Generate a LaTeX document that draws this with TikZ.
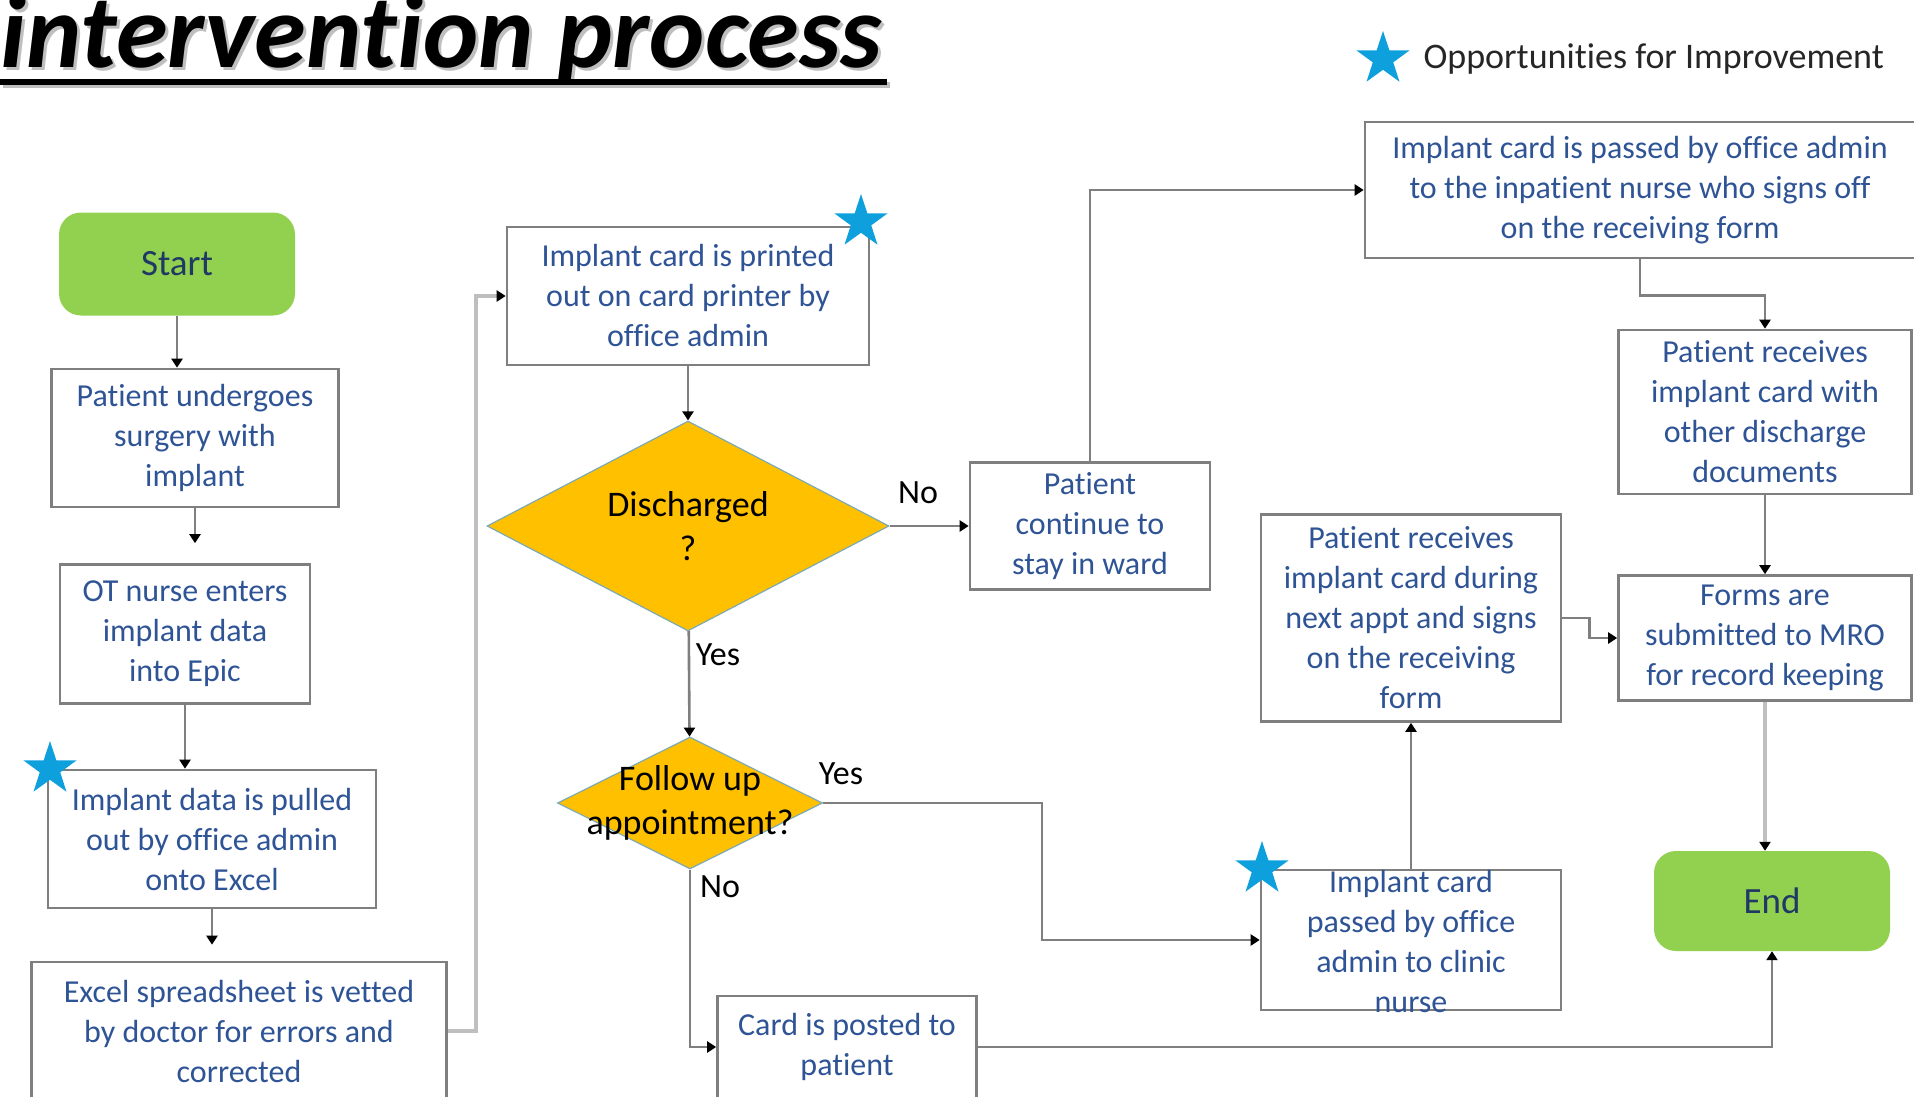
\documentclass[tikz,border=0pt]{standalone}
\usepackage{fontspec}
\setmainfont{Carlito}[Ligatures=NoCommon]
\usetikzlibrary{shapes.geometric,arrows.meta}
\definecolor{linegray}{RGB}{127,127,127}
\definecolor{lightline}{RGB}{191,191,191}
\definecolor{boxblue}{RGB}{47,84,150}
\definecolor{startgreen}{RGB}{146,208,80}
\definecolor{navy}{RGB}{31,56,100}
\definecolor{amber}{RGB}{255,192,0}
\definecolor{diamondline}{RGB}{125,170,180}
\definecolor{starblue}{RGB}{14,160,220}
\definecolor{legendgray}{RGB}{38,38,38}

\begin{document}
\begin{tikzpicture}[x=1pt,y=-1pt,
  box/.style={draw=linegray,line width=2.6pt,fill=white,text=boxblue,align=center,font=\fontsize{32}{40}\selectfont,inner sep=2pt},
  term/.style={rounded corners=22pt,fill=startgreen,text=navy,font=\fontsize{37}{44}\selectfont},
  decision/.style={diamond,draw=diamondline,line width=1.2pt,fill=amber,inner sep=0pt},
  qtext/.style={align=center,font=\fontsize{36}{44}\selectfont},
  answer/.style={font=\fontsize{34}{40}\selectfont},
  opstar/.style={star,star points=5,star point ratio=2.6,fill=starblue,inner sep=0pt,minimum size=56pt},
  link/.style={draw=linegray,line width=2.6pt,-{Triangle[length=9pt,width=11pt,color=black]}},
  softlink/.style={link,draw=lightline,line width=4pt}]
  \useasboundingbox (0,0) rectangle (1914,1097);

  % title
  \node[anchor=base west,text=gray!50,font=\fontsize{105}{105}\bfseries\itshape\selectfont] (ts) at (0,71) {intervention process};
  \node[anchor=base west,font=\fontsize{105}{105}\bfseries\itshape\selectfont] (t) at (-3,68) {intervention process};
  \draw[gray!50,line width=6pt] (3,85) -- (890,85);
  \draw[line width=6pt] (0,82) -- (887,82);

  \node[opstar] (s0) at (1383,59) {};
  \node[anchor=west,text=legendgray,font=\fontsize{36}{40}\selectfont] (lg) at (1420,59) {Opportunities for Improvement};

  \node[term,minimum width=236pt,minimum height=103pt] (1) at (177,264) {Start};
  \node[box,minimum width=287pt,minimum height=138pt] (2) at (195,438) {Patient undergoes\\surgery with\\implant};
  \node[box,minimum width=250pt,minimum height=139pt] (3) at (185,634) {OT nurse enters\\implant data\\into Epic};
  \node[box,minimum width=328pt,minimum height=138pt] (4) at (212,839) {Implant data is pulled\\out by office admin\\onto Excel};
  \node[box,minimum width=415pt,minimum height=138pt] (5) at (239,1031) {Excel spreadsheet is vetted\\by doctor for errors and\\corrected};
  \node[box,minimum width=362pt,minimum height=138pt] (6) at (688,296) {Implant card is printed\\out on card printer by\\office admin};
  \node[decision,minimum width=402pt,minimum height=210pt] (7) at (688,526) {};
  \node[qtext] (7t) at (688,526) {Discharged\\?};
  \node[decision,minimum width=265pt,minimum height=132pt] (8) at (690,803) {};
  \node[qtext] (8t) at (690,803) {Follow up\\appointment?};
  \node[box,minimum width=259pt,minimum height=102pt] (9) at (847,1047) {Card is posted to\\patient};
  \node[box,minimum width=240pt,minimum height=127pt] (10) at (1090,526) {Patient\\continue to\\stay in ward};
  \node[box,minimum width=550pt,minimum height=136pt] (11) at (1640,190) {Implant card is passed by office admin\\to the inpatient nurse who signs off\\on the receiving form};
  \node[box,minimum width=293pt,minimum height=164pt] (12) at (1765,412) {Patient receives\\implant card with\\other discharge\\documents};
  \node[box,minimum width=293pt,minimum height=125pt] (13) at (1765,638) {Forms are\\submitted to MRO\\for record keeping};
  \node[box,minimum width=300pt,minimum height=207pt] (14) at (1411,618) {Patient receives\\implant card during\\next appt and signs\\on the receiving\\form};
  \node[box,minimum width=300pt,minimum height=140pt] (15) at (1411,940) {};
  \node[box,draw=none,fill=none] (15t) at (1411,941) {Implant card\\passed by office\\admin to clinic\\nurse};
  \node[term,minimum width=236pt,minimum height=100pt] (16) at (1772,901) {End};

  \node[answer] (a1) at (918,493) {No};
  \node[answer] (a2) at (718,655) {Yes};
  \node[answer] (a3) at (841,774) {Yes};
  \node[answer] (a4) at (720,887) {No};

  \draw[link] (1) -- (1|-2.north);
  \draw[link,shorten >=20pt] (2) -- (2|-3.north);
  \draw[link] (3) -- (3|-4.north);
  \draw[link,shorten >=16pt] (4) -- (4|-5.north);
  \draw[softlink] (5.east) -- ++(28,0) |- (6.west);
  \draw[link] (6) -- (7);
  \draw[link] (7) -- (10);
  \draw[link] (7) -- (8);
  \draw[link] (8.east) -- ++(219,0) |- (15.west);
  \draw[link] (8.south) |- (9.west);
  \draw[link] (9.east) -| (16.south);
  \draw[link] (10.north) |- (11.west);
  \draw[link] (11.south) -- ++(0,36) -| (12.north);
  \draw[link] (12) -- (13);
  \draw[link] (14.east) -- ++(27,0) |- (13.west);
  \draw[link] (15) -- (14);
  \draw[softlink] (13) -- (13|-16.north);

  \node[opstar] (s1) at (861,222) {};
  \node[opstar] (s2) at (50,769) {};
  \node[opstar] (s3) at (1262,869) {};
\end{tikzpicture}
\end{document}
